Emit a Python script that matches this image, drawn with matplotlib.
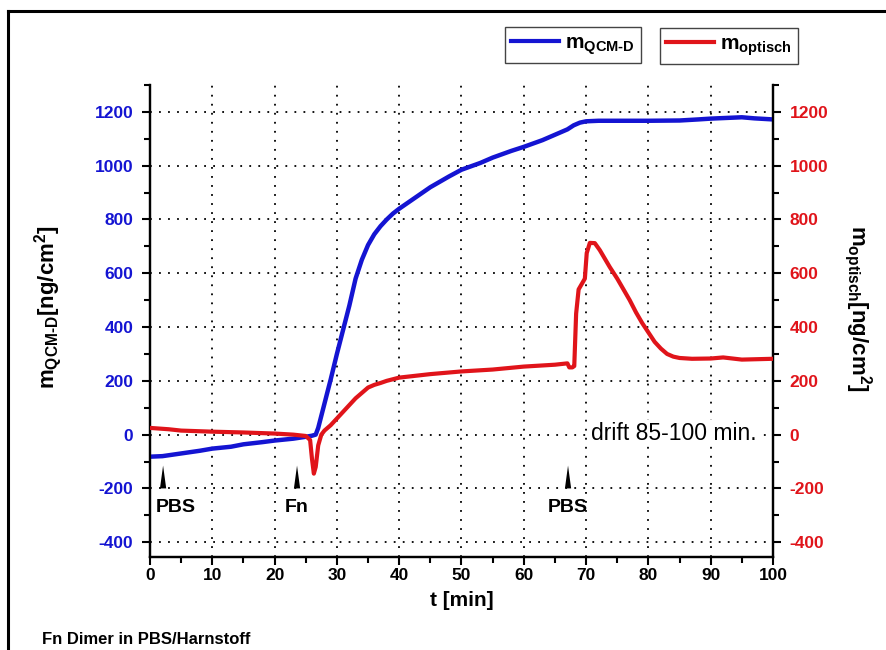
import matplotlib
matplotlib.use("Agg")
import matplotlib.pyplot as plt
from matplotlib.lines import Line2D
from matplotlib.ticker import MultipleLocator

plt.rcParams['font.family'] = ['Liberation Sans', 'DejaVu Sans']
plt.rcParams['mathtext.fontset'] = 'custom'
plt.rcParams['mathtext.rm'] = 'Liberation Sans:bold'
plt.rcParams['mathtext.bf'] = 'Liberation Sans:bold'
plt.rcParams['mathtext.default'] = 'rm'
plt.rcParams['axes.unicode_minus'] = False

# QCM-D mass (left axis)
t_qcm = [0, 2, 5, 8, 10, 13, 15, 18, 20, 23, 25, 26, 26.6, 27, 28, 29, 30, 31,
         32, 33, 34, 35, 36, 37, 38, 39, 40, 42, 45, 48, 50, 53, 55, 58, 60,
         63, 65, 67, 68, 69, 70, 72, 75, 80, 85, 88, 90, 93, 95, 97, 100]
m_qcm = [-82, -80, -70, -60, -52, -45, -36, -28, -22, -15, -8, -4, 0, 25, 115,
         205, 300, 390, 480, 580, 650, 705, 745, 775, 800, 822, 840, 872, 920,
         960, 985, 1010, 1030, 1055, 1070, 1095, 1115, 1135, 1150, 1160, 1165,
         1167, 1167, 1167, 1168, 1172, 1175, 1178, 1180, 1176, 1172]

# optical mass (right axis)
t_opt = [0, 3, 5, 10, 15, 20, 23, 25, 25.7, 26.0, 26.3, 26.6, 27, 27.5, 28,
         29, 30, 31, 32, 33, 34, 35, 36, 37, 38, 40, 45, 50, 55, 60, 65, 67,
         67.3, 67.8, 68.1, 68.4, 68.8, 69.3, 69.8, 70.1, 70.6, 71.4, 72.2,
         73.8, 75, 76, 77, 78, 79, 80, 81, 82, 83, 84, 85, 87, 90, 92, 95, 100]
m_opt = [25, 20, 15, 11, 8, 4, 0, -5, -20, -90, -145, -120, -40, 0, 15, 35,
         60, 85, 110, 135, 155, 175, 185, 192, 200, 212, 225, 235, 242, 253,
         260, 265, 250, 250, 255, 450, 540, 560, 580, 675, 713, 712, 686, 623,
         580, 540, 500, 455, 415, 380, 345, 320, 300, 290, 285, 282, 283, 287,
         279, 282]

# injection events
event_t = [2.1, 23.6, 67.1]
event_label = ["PBS", "Fn", "PBS"]
event_label_x = [4.2, 23.6, 67.1]

blue = '#1414d2'
red = '#e0141a'

fig = plt.figure(figsize=(8.87, 6.5), dpi=100)
ax1 = fig.add_axes([150 / 887, 1 - 557 / 650, 623 / 887, 472 / 650])
ax2 = ax1.twinx()

ax1.plot(t_qcm, m_qcm, color=blue, lw=3.2, zorder=3)
ax2.plot(t_opt, m_opt, color=red, lw=3, zorder=3)

ylim = (-455, 1300)
ax1.set_xlim(0, 100)
ax1.set_ylim(*ylim)
ax2.set_ylim(*ylim)

for ax in (ax1, ax2):
    ax.spines['top'].set_visible(False)
    for s in ('left', 'right', 'bottom'):
        ax.spines[s].set_linewidth(1.6)
    ax.yaxis.set_major_locator(MultipleLocator(200))
    ax.yaxis.set_minor_locator(MultipleLocator(100))
    ax.tick_params(which='major', length=6, width=1.5, pad=6, labelsize=12.5)
    ax.tick_params(which='minor', length=4, width=1.5)

ax1.xaxis.set_major_locator(MultipleLocator(10))
ax1.xaxis.set_minor_locator(MultipleLocator(5))
ax1.tick_params(axis='x', which='major', pad=2)
ax1.tick_params(axis='y', labelcolor=blue)
ax2.tick_params(axis='y', labelcolor=red)
for lab in ax1.get_xticklabels() + ax1.get_yticklabels() + ax2.get_yticklabels():
    lab.set_fontweight('bold')

ax1.grid(True, which='major', color='black', linestyle=(0, (1, 4)), lw=1.3)
ax1.set_axisbelow(True)

# injection markers
for t, lx, txt in zip(event_t, event_label_x, event_label):
    ax1.fill([t - 0.5, t, t + 0.5], [-200, -115, -200], color='black', lw=0, zorder=4)
    ax1.text(lx, -272, txt, ha='center', va='center', fontsize=14,
             fontweight='bold', zorder=5)

ax1.text(84.1, 5, "drift 85-100 min.", fontsize=16.5, ha='center', va='center',
         zorder=5, bbox=dict(facecolor='white', edgecolor='none', pad=1))

ax1.set_xlabel("t [min]", fontsize=15, fontweight='bold', labelpad=6)
fig.text(48 / 887, 1 - 307 / 650, r"$m_{QCM\text{-}D}[ng/cm^2]$", rotation=90,
         fontsize=16, ha='center', va='center')
fig.text(858 / 887, 1 - 308 / 650, r"$m_{optisch}[ng/cm^2]$", rotation=-90,
         fontsize=16, ha='center', va='center')

fig.text(42 / 887, 1 - 640 / 650, "Fn Dimer in PBS/Harnstoff", fontsize=12,
         fontweight='bold', ha='left', va='center')

# two separate legend boxes
leg_kw = dict(loc='upper left', borderaxespad=0, fancybox=False, fontsize=15,
              handlelength=2.3, handletextpad=0.3, borderpad=0.3,
              framealpha=1, edgecolor='#444444')
h1 = Line2D([], [], color=blue, lw=3)
h2 = Line2D([], [], color=red, lw=3)
lg1 = fig.legend([h1], [r"$m_{QCM\text{-}D}$"],
                 bbox_to_anchor=(505 / 887, 1 - 27 / 650), **leg_kw)
lg2 = fig.legend([h2], [r"$m_{optisch}$"],
                 bbox_to_anchor=(660 / 887, 1 - 28 / 650), **leg_kw)
for lg in (lg1, lg2):
    lg.get_frame().set_linewidth(1.0)

# outer border
fig.add_artist(Line2D([8 / 887, 8 / 887], [0, 1 - 11 / 650], color='black',
                      lw=2.2, transform=fig.transFigure))
fig.add_artist(Line2D([8 / 887, 1], [1 - 11 / 650, 1 - 11 / 650], color='black',
                      lw=2.2, transform=fig.transFigure))

fig.savefig("out.png", dpi=100)
